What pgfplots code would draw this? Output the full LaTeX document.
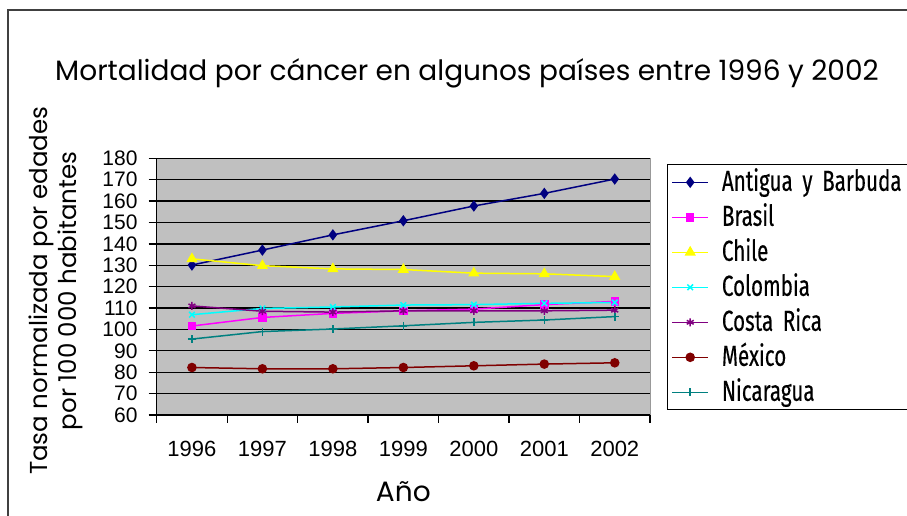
\documentclass[border=0pt]{standalone}
\usepackage{pgfplots}
\pgfplotsset{compat=1.18}
\usepackage{fontspec}
\setmainfont{Liberation Sans}
\newfontfamily\titlefont{Poppins}
\newfontfamily\legfont[FakeStretch=0.71,FakeBold=0.3]{Fira Sans}
\definecolor{cNavy}{RGB}{0,0,128}
\definecolor{cMag}{RGB}{255,0,255}
\definecolor{cYel}{RGB}{255,255,0}
\definecolor{cCyan}{RGB}{0,255,255}
\definecolor{cPurp}{RGB}{128,0,128}
\definecolor{cDred}{RGB}{128,0,0}
\definecolor{cTeal}{RGB}{0,128,128}
\definecolor{cBg}{RGB}{192,192,192}
\begin{document}
\begin{tikzpicture}
\begin{axis}[
  at={(0,0)}, anchor=south west,
  scale only axis, width=493.3pt, height=256.7pt,
  xmin=-0.5, xmax=6.5, ymin=60, ymax=180,
  axis background/.style={fill=cBg, draw=gray!80},
  axis x line*=bottom, axis y line*=left,
  axis line style={line width=1.5pt, black, -},
  xtick={0,...,6},
  xticklabels={1996,1997,1998,1999,2000,2001,2002},
  minor xtick={-0.5,0.5,...,6.5},
  major x tick style={draw=none},
  minor x tick style={line width=1.3pt, black},
  minor tick length=8pt,
  xtick align=outside, ytick align=outside,
  ytick={60,70,...,180},
  major tick length=8pt,
  y tick style={line width=1.3pt, black},
  ymajorgrids, grid style={line width=1.3pt, black},
  /pgf/number format/assume math mode=true,
  xticklabel style={font=\fontsize{22}{24}\selectfont, anchor=base, yshift=-33pt},
  yticklabel style={font=\fontsize{21}{22}\selectfont, anchor=east, inner sep=0pt, xshift=-11pt},
  xlabel={\titlefont Año},
  xlabel style={font=\fontsize{28}{30}\selectfont, at={(axis description cs:0.5,0)}, anchor=base, yshift=-86pt},
  ylabel={Tasa normalizada por edades\\por 100 000 habitantes},
  ylabel style={font=\titlefont\fontsize{24.5}{29}\selectfont, align=center, at={(axis description cs:-0.204,0.484)}, anchor=center},
  legend style={at={(axis description cs:1.0344,0.9766)}, anchor=north west, draw=black, line width=1pt, fill=white,
     font=\legfont\fontsize{29}{29}\selectfont, row sep=0pt, inner xsep=4pt, inner ysep=0pt,
     nodes={inner sep=0pt, text height=26pt, text depth=9pt, text width=210pt, align=left},
     /tikz/every odd column/.append style={column sep=13pt}},
  legend cell align=left,
  legend image code/.code={\draw[#1, line width=1.5pt, mark repeat=2, mark phase=2] plot coordinates {(0pt,0pt) (18pt,0pt) (36pt,0pt)};},
  every axis plot/.append style={line width=1.5pt},
]
\addplot[color=cNavy, mark=diamond*, mark size=4.5pt] coordinates {(0,130.1) (1,137.1) (2,144.2) (3,150.8) (4,157.7) (5,163.6) (6,170.3)};
\addlegendentry{Antigua y Barbuda}
\addplot[color=cMag, mark=square*, mark size=3.5pt] coordinates {(0,101.6) (1,105.6) (2,107.5) (3,108.7) (4,109.5) (5,111.6) (6,113.1)};
\addlegendentry{Brasil}
\addplot[color=cYel, mark=triangle*, mark size=5pt] coordinates {(0,133) (1,129.8) (2,128.3) (3,128) (4,126.3) (5,126) (6,124.7)};
\addlegendentry{Chile}
\addplot[color=cCyan, mark=x, mark size=4pt] coordinates {(0,106.9) (1,109.8) (2,110.5) (3,111.4) (4,111.6) (5,112.2) (6,112.6)};
\addlegendentry{Colombia}
\addplot[color=cPurp, mark=asterisk, mark size=4pt] coordinates {(0,111) (1,108.5) (2,108.1) (3,108.7) (4,108.7) (5,108.7) (6,109)};
\addlegendentry{Costa Rica}
\addplot[color=cDred, mark=*, mark size=4pt] coordinates {(0,82.2) (1,81.6) (2,81.6) (3,82.2) (4,83) (5,83.8) (6,84.4)};
\addlegendentry{México}
\addplot[color=cTeal, mark=+, mark size=4pt] coordinates {(0,95.5) (1,99) (2,100.2) (3,101.7) (4,103.3) (5,104.4) (6,106)};
\addlegendentry{Nicaragua}
\end{axis}
\draw[line width=1.6pt, color=black!75] (-148.7pt,-120pt) -- (-148.7pt,405pt) -- (800pt,405pt);
\node[font=\titlefont\fontsize{28}{30}\selectfont] at (310.3pt,342pt) {Mortalidad por cáncer en algunos países entre 1996 y 2002};
\pgfresetboundingbox
\useasboundingbox (-156.7pt,-101pt) rectangle (750.3pt,415pt);
\end{tikzpicture}
\end{document}
